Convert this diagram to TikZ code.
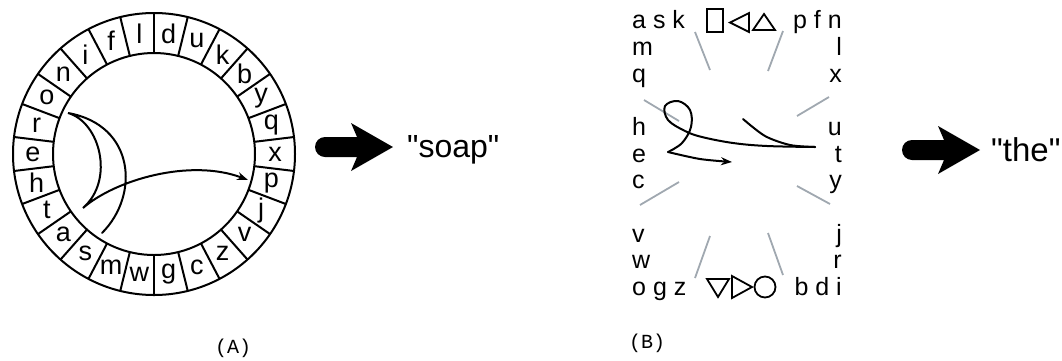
\documentclass[tikz,border=0pt]{standalone}
\usepackage{fontspec}
\setmainfont{Liberation Sans}
\newfontfamily\plainsans{Liberation Sans}[Ligatures=TeXOff]
\newfontfamily\monof{Liberation Mono}
\usetikzlibrary{arrows.meta}
\definecolor{graylinecol}{RGB}{160,168,176}
\tikzset{
  fatarr/.pic={\fill[black] (10,-10) -- (42,-10) -- (36,-24) -- (78,0) -- (36,24) -- (42,10) -- (10,10) arc[start angle=90,end angle=270,radius=10] -- cycle;}
}
\begin{document}
\begin{tikzpicture}[x=1pt,y=-1pt,
  ringline/.style={line width=2pt, black},
  ltr/.style={font=\fontsize{27}{27}\selectfont, inner sep=0pt},
  gl/.style={font=\fontsize{25}{25}\selectfont, inner sep=0pt},
  grayln/.style={line width=1.8pt, draw=graylinecol},
  ink/.style={line width=2pt, line cap=round},
  symb/.style={line width=1.8pt},
  word/.style={font=\plainsans\fontsize{32}{32}\selectfont, inner sep=0pt},
  lab/.style={font=\monof\fontsize{20}{20}\selectfont, inner sep=0pt}
]
\useasboundingbox (0,0) rectangle (1062,360);

% ---------- (A) ring ----------
\begin{scope}[shift={(154,154)}]
  \draw[ringline] (0,0) circle[radius=141];
  \draw[ringline] (0,0) circle[radius=101];
  \foreach \k in {0,...,25} \draw[ringline] ({-90+\k*360/26}:101) -- ({-90+\k*360/26}:141);
  \foreach \ch [count=\i from 0] in {d,u,k,b,y,q,x,p,j,v,z,c,g,w,m,s,a,t,h,e,r,o,n,i,f,l}
    \node[ltr] (r\i) at ({-90+360/52*(2*\i+1)}:121) {\ch};
\end{scope}
\draw[ink,-{Stealth[length=11pt,width=8pt]}] (102,233) .. controls (140,195) and (135,125) .. (68,113)
   .. controls (100,122) and (115,180) .. (83,208)
   .. controls (115,180) and (190,158) .. (248,180);

\pic at (315,147) {fatarr};
\node[word, anchor=base west] (soap) at (407,157) {"soap"};
\node[lab] (labA) at (233,348) {(A)};

% ---------- (B) ----------
\node[gl, anchor=base west] (l1) at (632,28) {a s k};
\node[gl, anchor=base west] (l2) at (632,55) {m};
\node[gl, anchor=base west] (l3) at (632,82) {q};
\node[gl, anchor=base west] (l4) at (632,135) {h};
\node[gl, anchor=base west] (l5) at (632,162) {e};
\node[gl, anchor=base west] (l6) at (632,188) {c};
\node[gl, anchor=base west] (l7) at (632,242) {v};
\node[gl, anchor=base west] (l8) at (632,268) {w};
\node[gl, anchor=base west] (l9) at (632,295) {o g z};
\node[gl, anchor=base east] (q1) at (842,28) {p f n};
\node[gl, anchor=base east] (q2) at (842,55) {l};
\node[gl, anchor=base east] (q3) at (842,82) {x};
\node[gl, anchor=base east] (q4) at (842,135) {u};
\node[gl, anchor=base east] (q5) at (842,162) {t};
\node[gl, anchor=base east] (q6) at (842,188) {y};
\node[gl, anchor=base east] (q7) at (842,242) {j};
\node[gl, anchor=base east] (q8) at (842,268) {r};
\node[gl, anchor=base east] (q9) at (842,295) {b d i};

% symbols
\draw[symb] (707,9) rectangle (723,32);
\draw[symb,line join=miter] (749,13) -- (749,32) -- (730,22.5) -- cycle;
\draw[symb,line join=miter] (764,14) -- (775,30) -- (753,30) -- cycle;
\draw[symb,line join=miter] (707,279) -- (729,279) -- (718,297) -- cycle;
\draw[symb,line join=miter] (732,276) -- (752,287) -- (732,298) -- cycle;
\draw[symb] (765,287) circle[radius=10.5];

% gray lines
\draw[grayln] (695,32) -- (710,70);
\draw[grayln] (783,31) -- (768,71);
\draw[grayln] (829,97) -- (797,116);
\draw[grayln] (797,186) -- (830,204);
\draw[grayln] (768,233) -- (783,275);
\draw[grayln] (710,236) -- (695,278);
\draw[grayln] (679,182) -- (640,205);
\draw[grayln] (644,100) -- (679,121);

% handwriting stroke
\draw[ink] plot[smooth] coordinates {(743,119) (765,136) (790,145) (815,147)};
\draw[ink] plot[smooth,tension=0.6] coordinates {(815,147) (767,146) (733,143) (702,137) (685,131) (668,120) (665,106) (678,101) (690,110) (691,127) (682,143) (668,152)};
\draw[ink,-{Stealth[length=11pt,width=8pt]}] plot[smooth] coordinates {(668,152) (700,159) (732,162)};

\pic at (902,150) {fatarr};
\node[word, anchor=base west, font=\plainsans\fontsize{33}{33}\selectfont] (the) at (991,161) {"the"};
\node[lab] (labB) at (647,343) {(B)};
\end{tikzpicture}
\end{document}
